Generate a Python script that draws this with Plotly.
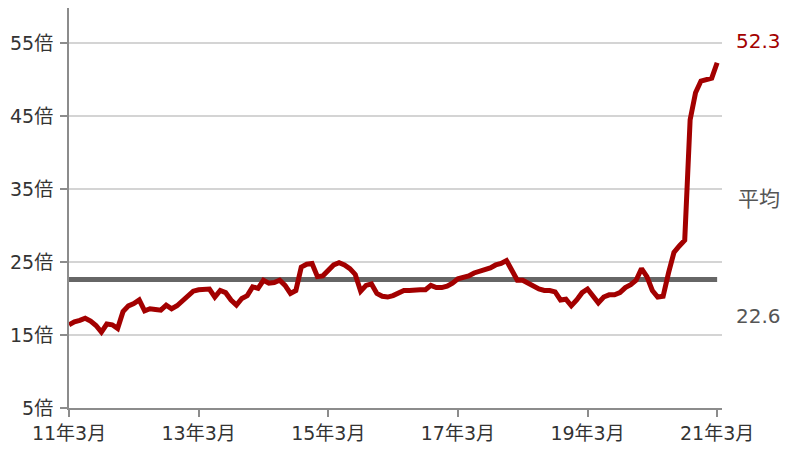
import plotly.graph_objects as go

months = list(range(121))  # 2011-03 .. 2021-03, monthly index
per_values = [
    16.4, 16.8, 17.0, 17.3, 16.9, 16.3, 15.4, 16.5, 16.4, 15.9,
    18.2, 19.0, 19.3, 19.8, 18.3, 18.6, 18.5, 18.4, 19.1, 18.6,
    19.0, 19.6, 20.4, 21.0, 21.2, 21.3, 21.3, 20.2, 21.1, 20.8,
    19.8, 19.1, 20.0, 20.4, 21.6, 21.4, 22.5, 22.1, 22.2, 22.5,
    21.8, 20.7, 21.1, 24.3, 24.7, 24.8, 23.0, 23.1, 23.8, 24.6,
    24.9, 24.6, 24.1, 23.3, 21.0, 21.8, 22.0, 20.7, 20.3, 20.2,
    20.4, 20.8, 21.1, 21.1, 21.2, 21.2, 21.2, 21.8, 21.5, 21.5,
    21.7, 22.1, 22.7, 22.9, 23.1, 23.5, 23.7, 24.0, 24.2, 24.6,
    24.8, 25.2, 24.0, 22.5, 22.5, 22.1, 21.7, 21.3, 21.1, 21.1,
    20.9, 19.8, 19.9, 19.0, 19.8, 20.8, 21.3, 20.3, 19.4, 20.2,
    20.5, 20.5, 20.8, 21.5, 21.9, 22.5, 24.1, 23.0, 21.1, 20.2,
    20.3, 23.5, 26.3, 27.2, 28.0, 44.5, 48.2, 49.8, 50.0, 50.2,
    52.3,
]
average_value = 22.6
x_tick_vals = [0, 24, 48, 72, 96, 120]
x_tick_text = ["11年3月", "13年3月", "15年3月", "17年3月", "19年3月", "21年3月"]
y_tick_vals = [5, 15, 25, 35, 45, 55]
y_tick_text = ["5倍", "15倍", "25倍", "35倍", "45倍", "55倍"]

FONT = "DejaVu Sans, Noto Sans CJK JP"
RED = "#a30000"
GRAY = "#666666"
Y_MIN, Y_MAX = 5, 59.8

fig = go.Figure()
fig.add_trace(go.Scatter(
    x=months, y=[average_value] * len(months), mode="lines",
    line=dict(color=GRAY, width=5), hoverinfo="skip", showlegend=False,
))
fig.add_trace(go.Scatter(
    x=months, y=per_values, mode="lines",
    line=dict(color=RED, width=5), showlegend=False,
))

def ypaper(v):
    return (v - Y_MIN) / (Y_MAX - Y_MIN)

LX = 1.056
fig.add_annotation(xref="paper", yref="paper", x=LX, y=ypaper(55.3),
                   text=f"{per_values[-1]}", showarrow=False,
                   font=dict(family=FONT, size=20, color=RED), xanchor="center", yanchor="middle")
fig.add_annotation(xref="paper", yref="paper", x=LX, y=ypaper(33.6),
                   text="平均", showarrow=False,
                   font=dict(family=FONT, size=21, color="#555555"), xanchor="center", yanchor="middle")
fig.add_annotation(xref="paper", yref="paper", x=LX, y=ypaper(17.6),
                   text=f"{average_value}", showarrow=False,
                   font=dict(family=FONT, size=20, color="#555555"), xanchor="center", yanchor="middle")

# page body has an 8px margin, so the figure is sized/offset to compensate
fig.update_layout(
    width=780, height=445,
    margin=dict(l=61, r=66, t=0, b=45),
    paper_bgcolor="white", plot_bgcolor="white",
    font=dict(family=FONT, size=19, color="#333333"),
    xaxis=dict(
        range=[0, 120.9], tickvals=x_tick_vals, ticktext=x_tick_text, automargin=False,
        showgrid=False, zeroline=False, showline=True, linecolor="#8c8c8c", linewidth=2,
        ticks="outside", ticklen=7, tickwidth=2, tickcolor="#8c8c8c",
        tickfont=dict(size=19),
    ),
    yaxis=dict(
        range=[Y_MIN, Y_MAX], tickvals=y_tick_vals, ticktext=y_tick_text, automargin=False,
        showgrid=True, gridcolor="#d4d4d4", gridwidth=1.5, zeroline=False,
        showline=True, linecolor="#8c8c8c", linewidth=2,
        ticks="outside", ticklen=7, tickwidth=2, tickcolor="#8c8c8c",
        ticklabelstandoff=3, tickfont=dict(size=19),
    ),
)

fig.write_html("out.html")
